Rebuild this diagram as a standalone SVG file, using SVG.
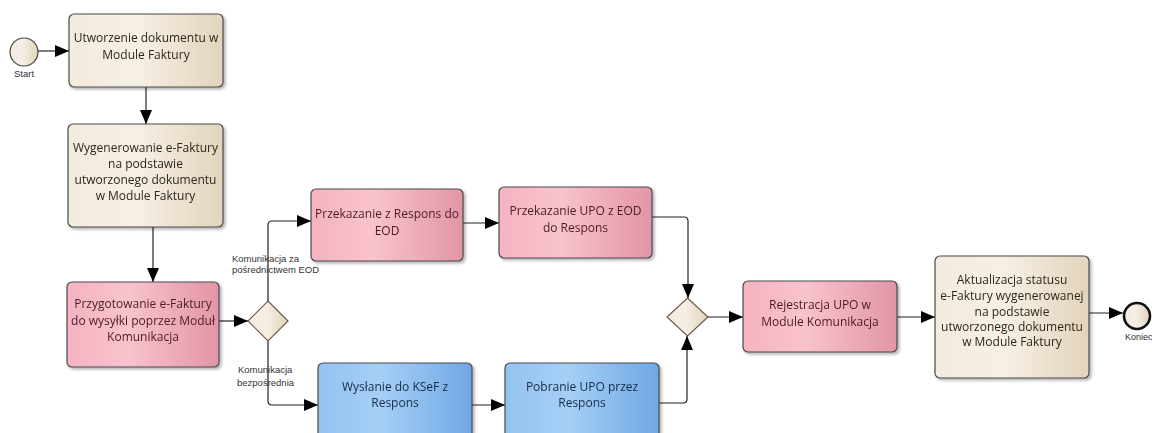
<svg xmlns="http://www.w3.org/2000/svg" width="1152" height="433" viewBox="0 0 1152 433">
<style>
.box{stroke:#4a4a4a;stroke-width:1.2}
.beige{fill:url(#gBeige)}
.pink{fill:url(#gPink)}
.blue{fill:url(#gBlue)}
.t{font-family:"Open Sans","Noto Sans",sans-serif;font-size:12px;text-anchor:middle}
.tb{fill:#2e261e}
.tp{fill:#4a1b26}
.tl{fill:#172c46}
.lbl{font-family:"Liberation Sans",Arial,sans-serif;font-size:9.5px;fill:#333}
.conn{fill:none;stroke:#222;stroke-width:1.2;marker-end:url(#arr)}
.gw{fill:url(#gBeige);stroke:#6a5c4c;stroke-width:1.2}
</style>
<defs>
<linearGradient id="gBeige" x1="0" y1="0" x2="1" y2="0">
<stop offset="0" stop-color="#f3ebde"/><stop offset="0.45" stop-color="#f6efe4"/><stop offset="1" stop-color="#e3d4bb"/>
</linearGradient>
<linearGradient id="gPink" x1="0" y1="0" x2="1" y2="0">
<stop offset="0" stop-color="#f4b3c0"/><stop offset="0.4" stop-color="#f9c3cd"/><stop offset="1" stop-color="#e295a6"/>
</linearGradient>
<linearGradient id="gBlue" x1="0" y1="0" x2="1" y2="0">
<stop offset="0" stop-color="#93c3f0"/><stop offset="0.4" stop-color="#a5cff6"/><stop offset="1" stop-color="#70a8e3"/>
</linearGradient>
<filter id="sh" x="-10%" y="-10%" width="125%" height="130%">
<feDropShadow dx="2" dy="2" stdDeviation="1.5" flood-color="#000" flood-opacity="0.3"/>
</filter>
<marker id="arr" markerUnits="userSpaceOnUse" markerWidth="14" markerHeight="12" refX="14" refY="6" orient="auto">
<path d="M0,0 L14,6 L0,12 z" fill="#000"/>
</marker>
</defs>

<g id="connectors">
<path class="conn" d="M38,51 H69"/>
<path class="conn" d="M146,87 V124"/>
<path class="conn" d="M153,227 V282"/>
<path class="conn" d="M219,321 H248"/>
<path class="conn" d="M268,301 V225 Q268,221 272,221 H311"/>
<path class="conn" d="M463,223 H499"/>
<path class="conn" d="M652,217 H684 Q688,217 688,221 V298"/>
<path class="conn" d="M268,340 V401 Q268,405 272,405 H318"/>
<path class="conn" d="M472,405 H505"/>
<path class="conn" d="M659,403 H683 Q687,403 687,399 V336"/>
<path class="conn" d="M708,317 H743"/>
<path class="conn" d="M897,317 H935"/>
<path class="conn" d="M1089,313 H1123"/>
<text class="lbl" x="232" y="262">Komunikacja za</text>
<text class="lbl" x="232" y="273">pośrednictwem EOD</text>
<text class="lbl" x="238" y="373">Komunikacja</text>
<text class="lbl" x="237" y="386">bezpośrednia</text>
</g>

<g id="start">
<circle cx="24" cy="52" r="14" fill="url(#gBeige)" stroke="#444" stroke-width="1.2"/>
<text class="lbl" x="24" y="77" text-anchor="middle" font-size="9">Start</text>
</g>

<g id="n1" filter="url(#sh)">
<rect class="box beige" x="69" y="14" width="154" height="73" rx="5"/>
<text class="t tb" x="146" y="42">Utworzenie dokumentu w</text>
<text class="t tb" x="146" y="59">Module Faktury</text>
</g>

<g id="n2" filter="url(#sh)">
<rect class="box beige" x="68" y="124" width="155" height="103" rx="5"/>
<text class="t tb" x="145.5" y="152">Wygenerowanie e-Faktury</text>
<text class="t tb" x="145.5" y="168">na podstawie</text>
<text class="t tb" x="145.5" y="184">utworzonego dokumentu</text>
<text class="t tb" x="145.5" y="200">w Module Faktury</text>
</g>

<g id="n3" filter="url(#sh)">
<rect class="box pink" x="67" y="282" width="152" height="85" rx="5"/>
<text class="t tp" x="143" y="308">Przygotowanie e-Faktury</text>
<text class="t tp" x="143" y="325">do wysyłki poprzez Moduł</text>
<text class="t tp" x="143" y="341">Komunikacja</text>
</g>

<g id="gw1">
<path class="gw" d="M268,301 L288,321 L268,341 L248,321 z"/>
</g>

<g id="n4" filter="url(#sh)">
<rect class="box pink" x="311" y="189" width="152" height="72" rx="5"/>
<text class="t tp" x="387" y="218">Przekazanie z Respons do</text>
<text class="t tp" x="387" y="235">EOD</text>
</g>

<g id="n5" filter="url(#sh)">
<rect class="box pink" x="499" y="187" width="153" height="71" rx="5"/>
<text class="t tp" x="575.5" y="215">Przekazanie UPO z EOD</text>
<text class="t tp" x="575.5" y="232">do Respons</text>
</g>

<g id="n6" filter="url(#sh)">
<rect class="box blue" x="318" y="363" width="154" height="85" rx="5"/>
<text class="t tl" x="395" y="391">Wysłanie do KSeF z</text>
<text class="t tl" x="395" y="407">Respons</text>
</g>

<g id="n7" filter="url(#sh)">
<rect class="box blue" x="505" y="363" width="154" height="85" rx="5"/>
<text class="t tl" x="582" y="391">Pobranie UPO przez</text>
<text class="t tl" x="582" y="407">Respons</text>
</g>

<g id="gw2">
<path class="gw" d="M687.5,298 L708,317 L687.5,336 L667,317 z"/>
</g>

<g id="n8" filter="url(#sh)">
<rect class="box pink" x="743" y="281" width="154" height="71" rx="5"/>
<text class="t tp" x="820" y="309">Rejestracja UPO w</text>
<text class="t tp" x="820" y="326">Module Komunikacja</text>
</g>

<g id="n9" filter="url(#sh)">
<rect class="box beige" x="935" y="256" width="154" height="122" rx="5"/>
<text class="t tb" x="1012" y="284">Aktualizacja statusu</text>
<text class="t tb" x="1012" y="300">e-Faktury wygenerowanej</text>
<text class="t tb" x="1012" y="316">na podstawie</text>
<text class="t tb" x="1012" y="331">utworzonego dokumentu</text>
<text class="t tb" x="1012" y="346">w Module Faktury</text>
</g>

<g id="end">
<circle cx="1137" cy="316" r="13" fill="url(#gBeige)" stroke="#111" stroke-width="2.6"/>
<text x="1125" y="340" font-family="Liberation Sans, Arial, sans-serif" font-size="9" fill="#333">Koniec</text>
</g>
</svg>
